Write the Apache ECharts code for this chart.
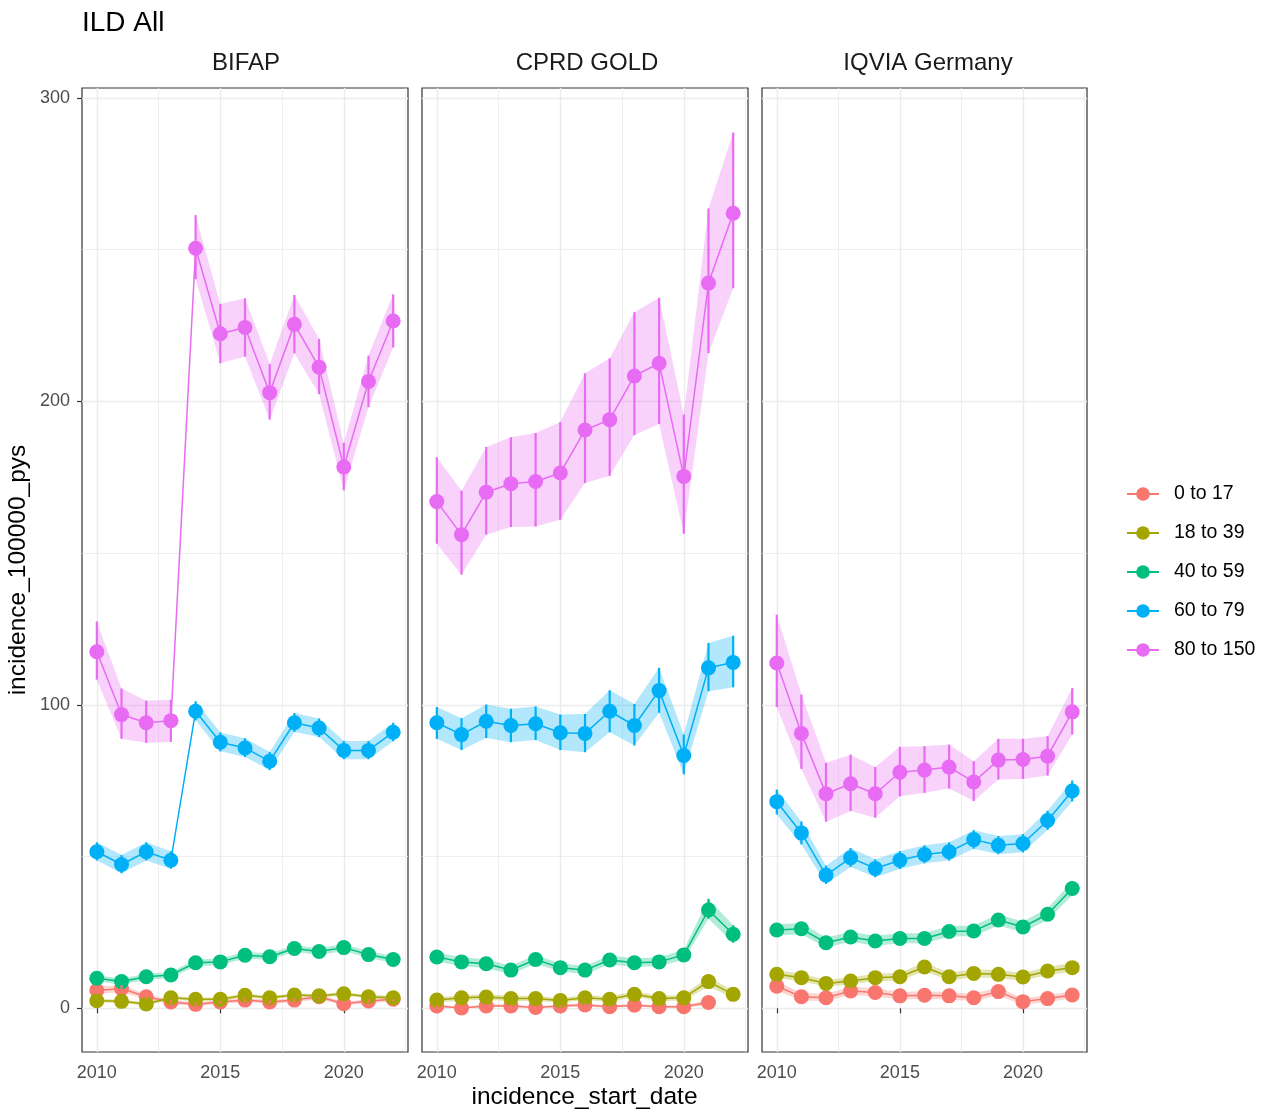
<!DOCTYPE html>
<html><head><meta charset="utf-8">
<script src="https://cdn.jsdelivr.net/npm/echarts@6/dist/echarts.min.js"></script>
<style>html,body{margin:0;padding:0;background:#fff}#c{width:1269px;height:1113px}</style>
</head><body><div id="c"></div>
<script>
// ---------- data ----------
const years = [2010,2011,2012,2013,2014,2015,2016,2017,2018,2019,2020,2021,2022];
const ageGroups = ['0 to 17','18 to 39','40 to 59','60 to 79','80 to 150'];
const groupColors = ['#F8766D','#A3A500','#00BF7D','#00B0F6','#E76BF3'];
const databases = ['BIFAP','CPRD GOLD','IQVIA Germany'];
const xMajorTicks = [2010,2015,2020];
const xMinorGrid = [2012.5,2017.5,2022.5];
const yMajorTicks = [0,100,200,300];
const yMinorGrid = [50,150,250];

// BIFAP
const bifap_0_17    = [5.9,6.5,3.8,2.1,1.3,2.1,2.7,2.1,2.7,3.8,1.5,2.4,3.0];
const bifap_0_17_lo = [4.7,5.3,2.9,1.4,0.7,1.4,2.0,1.4,2.0,3.0,0.9,1.7,2.3];
const bifap_0_17_hi = [7.1,7.7,4.7,2.8,1.9,2.8,3.4,2.8,3.4,4.6,2.1,3.1,3.7];
const bifap_18_39    = [2.5,2.3,1.4,3.5,3.0,3.0,4.3,3.5,4.4,4.1,4.8,3.8,3.5];
const bifap_18_39_lo = [1.9,1.7,0.9,2.9,2.4,2.4,3.7,2.9,3.8,3.5,4.2,3.2,2.9];
const bifap_18_39_hi = [3.1,2.9,1.9,4.1,3.6,3.6,4.9,4.1,5.0,4.7,5.4,4.4,4.1];
const bifap_40_59    = [9.9,8.8,10.4,11.0,15.0,15.3,17.5,17.0,19.7,18.7,20.0,17.7,16.1];
const bifap_40_59_lo = [8.9,7.8,9.4,10.0,13.9,14.2,16.4,15.9,18.6,17.6,18.9,16.6,15.0];
const bifap_40_59_hi = [10.9,9.8,11.4,12.0,16.1,16.4,18.6,18.1,20.8,19.8,21.1,18.8,17.2];
const bifap_60_79    = [51.6,47.4,51.6,48.8,97.9,87.7,85.8,81.4,94.1,92.4,85.0,85.0,91.0];
const bifap_60_79_lo = [48.7,44.5,48.7,46.0,94.9,84.7,82.8,78.5,91.1,89.4,82.1,82.1,88.0];
const bifap_60_79_hi = [54.7,50.5,54.7,51.8,101.2,90.9,89.0,84.5,97.3,95.5,88.1,88.1,94.1];
const bifap_80_150    = [117.5,96.8,94.1,94.8,250.5,222.3,224.4,202.9,225.4,211.3,178.4,206.6,226.5];
const bifap_80_150_lo = [108.3,88.8,87.5,87.8,240.3,212.6,214.8,194.0,215.9,202.4,170.7,198.1,217.8];
const bifap_80_150_hi = [127.5,105.4,101.4,101.7,261.4,232.1,234.0,212.3,235.1,220.6,186.3,215.1,235.3];
// ribbons drawn in separate pieces (gap after these years)
const bifap_ribbonBreaks = [[],[],[],[2013],[2013]];

// CPRD GOLD
const cprd_0_17    = [0.8,0.1,0.8,0.8,0.3,0.8,1.1,0.5,1.0,0.5,0.5,1.9,null];
const cprd_0_17_lo = [0.4,0.0,0.4,0.4,0.1,0.4,0.6,0.2,0.5,0.2,0.2,1.1,null];
const cprd_0_17_hi = [1.3,0.4,1.3,1.3,0.6,1.3,1.6,0.9,1.5,0.9,0.9,2.8,null];
const cprd_18_39    = [2.7,3.5,3.7,3.2,3.2,2.6,3.5,3.0,4.6,3.2,3.5,8.8,4.6];
const cprd_18_39_lo = [1.9,2.6,2.8,2.4,2.4,1.9,2.7,2.2,3.7,2.4,2.6,7.2,3.5];
const cprd_18_39_hi = [3.6,4.4,4.6,4.1,4.1,3.4,4.4,3.9,5.6,4.1,4.5,10.5,5.8];
const cprd_40_59    = [16.9,15.3,14.7,12.6,16.1,13.4,12.6,15.9,15.0,15.3,17.6,32.4,24.4];
const cprd_40_59_lo = [15.4,13.9,13.3,11.3,14.7,12.1,11.3,14.5,13.6,13.9,16.0,29.5,21.6];
const cprd_40_59_hi = [18.4,16.8,16.2,14.0,17.6,14.8,14.0,17.4,16.5,16.8,19.3,36.1,27.4];
const cprd_60_79    = [94.1,90.2,94.6,93.2,93.8,90.8,90.6,97.9,93.2,104.7,83.3,112.2,114.0];
const cprd_60_79_lo = [88.8,85.1,89.1,87.7,88.4,85.1,84.4,91.0,86.6,97.4,77.1,104.5,105.8];
const cprd_60_79_hi = [99.3,95.6,100.1,98.7,99.5,96.8,97.0,104.8,100.3,112.2,90.2,120.4,122.8];
const cprd_80_150    = [167.0,156.1,170.1,172.9,173.6,176.4,190.6,194.0,208.4,212.6,175.3,239.0,262.0];
const cprd_80_150_lo = [153.1,142.9,156.1,158.6,158.8,161.0,173.1,175.5,188.9,192.6,156.4,215.9,237.3];
const cprd_80_150_hi = [181.6,170.6,185.0,188.2,189.6,193.2,209.3,214.2,229.4,234.2,195.6,263.6,288.6];
const cprd_ribbonBreaks = [[],[],[],[],[]];

// IQVIA Germany
const iqvia_0_17    = [7.3,3.8,3.5,5.7,5.2,4.1,4.3,4.1,3.5,5.5,2.2,3.2,4.4];
const iqvia_0_17_lo = [5.8,2.6,2.3,4.4,3.9,2.9,3.1,2.9,2.3,4.2,1.2,2.1,3.2];
const iqvia_0_17_hi = [8.9,5.1,4.8,7.1,6.6,5.4,5.6,5.4,4.8,6.9,3.3,4.4,5.7];
const iqvia_18_39    = [11.2,10.1,8.2,9.0,10.1,10.4,13.6,10.4,11.5,11.2,10.3,12.3,13.4];
const iqvia_18_39_lo = [9.9,8.9,7.1,7.9,8.9,9.2,12.2,9.2,10.2,9.9,9.1,11.0,12.0];
const iqvia_18_39_hi = [12.6,11.4,9.4,10.2,11.4,11.7,15.1,11.7,12.9,12.6,11.6,13.7,14.9];
const iqvia_40_59    = [25.8,26.2,21.6,23.5,22.2,23.0,23.0,25.3,25.5,29.1,26.8,31.0,39.5];
const iqvia_40_59_lo = [24.0,24.4,20.0,21.9,20.6,21.4,21.4,23.6,23.8,27.3,25.1,29.1,37.2];
const iqvia_40_59_hi = [27.7,28.1,23.3,25.2,23.9,24.7,24.7,27.1,27.3,31.0,28.6,33.0,41.9];
const iqvia_60_79    = [68.1,57.8,43.9,49.6,46.1,48.8,50.7,51.6,55.6,53.7,54.3,61.9,71.6];
const iqvia_60_79_lo = [63.9,54.0,41.0,46.6,43.2,45.9,47.8,48.7,52.6,50.8,51.4,58.8,68.2];
const iqvia_60_79_hi = [72.1,61.6,47.0,52.8,49.1,51.8,53.7,54.7,58.7,56.8,57.4,65.1,75.1];
const iqvia_80_150    = [113.8,90.6,70.7,74.0,70.7,77.8,78.5,79.5,74.6,81.8,82.0,83.1,97.7];
const iqvia_80_150_lo = [99.3,78.9,61.5,65.0,62.8,69.9,71.0,72.4,68.3,75.4,75.6,76.7,90.2];
const iqvia_80_150_hi = [129.7,103.4,80.9,83.6,79.5,86.2,86.4,86.9,81.4,88.8,88.8,89.7,105.6];
const iqvia_ribbonBreaks = [[],[],[],[],[]];

// ---------- assembly ----------
const panels = [
  {est:[bifap_0_17,bifap_18_39,bifap_40_59,bifap_60_79,bifap_80_150],
   lo:[bifap_0_17_lo,bifap_18_39_lo,bifap_40_59_lo,bifap_60_79_lo,bifap_80_150_lo],
   hi:[bifap_0_17_hi,bifap_18_39_hi,bifap_40_59_hi,bifap_60_79_hi,bifap_80_150_hi],
   breaks:bifap_ribbonBreaks},
  {est:[cprd_0_17,cprd_18_39,cprd_40_59,cprd_60_79,cprd_80_150],
   lo:[cprd_0_17_lo,cprd_18_39_lo,cprd_40_59_lo,cprd_60_79_lo,cprd_80_150_lo],
   hi:[cprd_0_17_hi,cprd_18_39_hi,cprd_40_59_hi,cprd_60_79_hi,cprd_80_150_hi],
   breaks:cprd_ribbonBreaks},
  {est:[iqvia_0_17,iqvia_18_39,iqvia_40_59,iqvia_60_79,iqvia_80_150],
   lo:[iqvia_0_17_lo,iqvia_18_39_lo,iqvia_40_59_lo,iqvia_60_79_lo,iqvia_80_150_lo],
   hi:[iqvia_0_17_hi,iqvia_18_39_hi,iqvia_40_59_hi,iqvia_60_79_hi,iqvia_80_150_hi],
   breaks:iqvia_ribbonBreaks}
];

const FONT = '"Liberation Sans", Arial, Helvetica, sans-serif';
const gridLefts = [82, 422, 762];
const gridWidths = [326, 326, 325];
const gridTop = 88, gridHeight = 964;
const X_MIN = 2009.4, X_MAX = 2022.6, Y_MIN = -14.4, Y_MAX = 303.3;

const grids = [], xAxes = [], yAxes = [], series = [];
panels.forEach((p, pi) => {
  grids.push({left: gridLefts[pi], top: gridTop, width: gridWidths[pi], height: gridHeight,
    show: true, borderColor: '#333333', borderWidth: 1.2, backgroundColor: '#ffffff', containLabel: false});
  xAxes.push({gridIndex: pi, type: 'value', min: X_MIN, max: X_MAX,
    axisLine: {show: false},
    axisTick: {show: true, length: 5, customValues: xMajorTicks, lineStyle: {color: '#333333', width: 1.2}},
    axisLabel: {show: true, customValues: xMajorTicks, color: '#4d4d4d', fontSize: 18, fontFamily: FONT, margin: 12,
      formatter: v => String(v)},
    splitLine: {show: true, lineStyle: {color: '#ebebeb', width: 1.4}}});
  xAxes.push({gridIndex: pi, type: 'value', min: X_MIN, max: X_MAX, position: 'bottom',
    axisLine: {show: false}, axisTick: {show: false, customValues: xMinorGrid},
    axisLabel: {show: false, customValues: xMinorGrid},
    splitLine: {show: true, lineStyle: {color: '#ebebeb', width: 0.8}}});
  yAxes.push({gridIndex: pi, type: 'value', min: Y_MIN, max: Y_MAX,
    axisLine: {show: false},
    axisTick: {show: pi === 0, length: 5, customValues: yMajorTicks, lineStyle: {color: '#333333', width: 1.2}},
    axisLabel: {show: pi === 0, customValues: yMajorTicks, color: '#4d4d4d', fontSize: 18, fontFamily: FONT, margin: 12,
      formatter: v => String(v)},
    splitLine: {show: true, lineStyle: {color: '#ebebeb', width: 1.4}}});
  yAxes.push({gridIndex: pi, type: 'value', min: Y_MIN, max: Y_MAX,
    axisLine: {show: false}, axisTick: {show: false, customValues: yMinorGrid},
    axisLabel: {show: false, customValues: yMinorGrid},
    splitLine: {show: true, lineStyle: {color: '#ebebeb', width: 0.8}}});

  const xi = pi * 2, yi = pi * 2;
  ageGroups.forEach((g, gi) => {
    const est = p.est[gi], lo = p.lo[gi], hi = p.hi[gi], col = groupColors[gi];
    const segs = [];
    let cur = [];
    years.forEach((yr, i) => {
      if (est[i] == null) { if (cur.length) segs.push(cur); cur = []; return; }
      cur.push(i);
      if (p.breaks[gi].indexOf(yr) >= 0) { segs.push(cur); cur = []; }
    });
    if (cur.length) segs.push(cur);
    series.push({
      type: 'custom', name: 'ribbon ' + g, xAxisIndex: xi, yAxisIndex: yi, z: 1, silent: true,
      data: segs.map(s => [years[s[0]], lo[s[0]]]),
      renderItem: (params, api) => {
        const s = segs[params.dataIndex];
        if (s.length < 2) return null;
        const top = s.map(i => api.coord([years[i], hi[i]]));
        const bot = s.map(i => api.coord([years[i], lo[i]])).reverse();
        return {type: 'polygon', shape: {points: top.concat(bot)}, style: {fill: col, opacity: 0.3}};
      }
    });
    series.push({
      type: 'line', name: g, xAxisIndex: xi, yAxisIndex: yi, z: 2,
      data: years.map((yr, i) => [yr, est[i]]),
      color: col, symbol: 'circle', symbolSize: 15, showSymbol: true, showAllSymbol: true,
      connectNulls: false, lineStyle: {width: 1.5, color: col}, itemStyle: {color: col},
      emphasis: {disabled: true}
    });
    const eb = [];
    years.forEach((yr, i) => { if (est[i] != null) eb.push([yr, lo[i], hi[i]]); });
    series.push({
      type: 'custom', name: 'errorbar ' + g, xAxisIndex: xi, yAxisIndex: yi, z: 3, silent: true,
      data: eb,
      renderItem: (params, api) => {
        const a = api.coord([api.value(0), api.value(1)]);
        const b = api.coord([api.value(0), api.value(2)]);
        return {type: 'line', shape: {x1: a[0], y1: a[1], x2: b[0], y2: b[1]},
          style: {stroke: col, lineWidth: 2.2}};
      }
    });
  });
});

const graphics = [
  {type: 'text', left: 82, top: 9, style: {text: 'ILD All', font: '28px ' + FONT, fill: '#000'}},
  {type: 'text', x: 246, y: 63, style: {text: databases[0], font: '24px ' + FONT, fill: '#1a1a1a', textAlign: 'center', textVerticalAlign: 'middle'}},
  {type: 'text', x: 587, y: 63, style: {text: databases[1], font: '24px ' + FONT, fill: '#1a1a1a', textAlign: 'center', textVerticalAlign: 'middle'}},
  {type: 'text', x: 928, y: 63, style: {text: databases[2], font: '24px ' + FONT, fill: '#1a1a1a', textAlign: 'center', textVerticalAlign: 'middle'}},
  {type: 'text', x: 584.5, y: 1097, style: {text: 'incidence_start_date', font: '24.5px ' + FONT, fill: '#000', textAlign: 'center', textVerticalAlign: 'middle'}},
  {type: 'text', x: 18, y: 570, rotation: Math.PI / 2, style: {text: 'incidence_100000_pys', font: '24.5px ' + FONT, fill: '#000', textAlign: 'center', textVerticalAlign: 'middle'}}
];

const chart = echarts.init(document.getElementById('c'), null, {renderer: 'canvas'});
chart.setOption({
  animation: false,
  backgroundColor: '#ffffff',
  textStyle: {fontFamily: FONT},
  grid: grids, xAxis: xAxes, yAxis: yAxes, series: series,
  graphic: graphics,
  legend: {
    data: ageGroups, orient: 'vertical', left: 1121, top: 479,
    itemWidth: 32, itemHeight: 17, itemGap: 19,
    textStyle: {fontSize: 19.5, color: '#000', fontFamily: FONT, padding: [0, 0, 0, 10]},
    selectedMode: false
  }
});
</script></body></html>
